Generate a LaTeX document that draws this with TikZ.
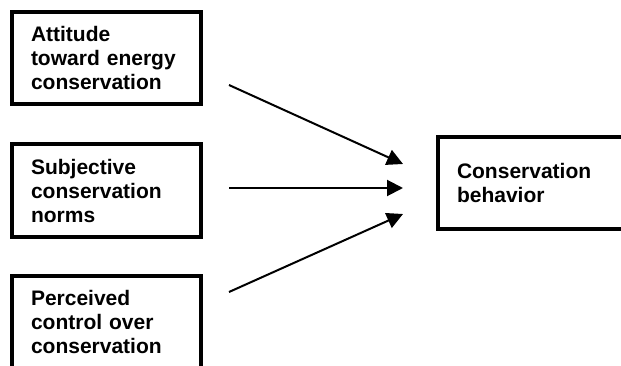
\documentclass[tikz,border=0pt]{standalone}
\usepackage{fontspec}
\setmainfont{Liberation Sans}
\usetikzlibrary{arrows.meta}

\begin{document}
\begin{tikzpicture}[x=1pt,y=-1pt,
    factor/.style={draw,line width=4pt,minimum width=189pt,minimum height=92pt,
        text width=151pt,inner xsep=19pt,align=left,
        font=\fontsize{21}{24}\selectfont\bfseries},
    path/.style={line width=2pt,-{Triangle[length=16pt,width=16pt]}}]
        \useasboundingbox (0,0) rectangle (621,366);
        \clip (0,0) rectangle (621,366);
        % predictors
        \node[factor] (attitude) at (106.5,58) {Attitude\\toward energy\\conservation};
        \node[factor] (norms) at (106.5,190.5) {Subjective\\conservation\\norms};
        \node[factor] (control) at (106.5,322) {Perceived\\control over\\conservation};
        % outcome
        \node[factor,minimum width=230pt,text width=194pt] (behavior) at (554,183) {Conservation\\behavior};
        % arrows
        \coordinate (a1) at (229,85);
        \coordinate (a2) at (229,188);
        \coordinate (a3) at (229,292);
        \coordinate (b1) at (403,164);
        \coordinate (b2) at (403,188);
        \coordinate (b3) at (403,214);
        \foreach \i in {1,2,3}{
            \draw[path] (a\i) -- (b\i);
        }
\end{tikzpicture}
\end{document}
